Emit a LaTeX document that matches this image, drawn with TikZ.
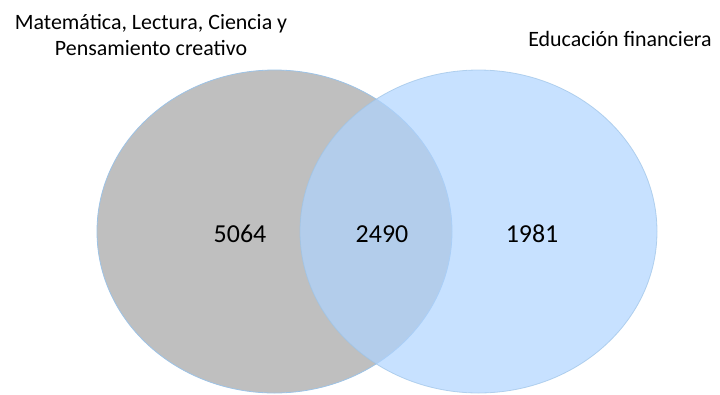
\documentclass[tikz,border=0pt]{standalone}
\usepackage{fontspec}
\setmainfont{Carlito}
\usetikzlibrary{positioning}
\definecolor{setgray}{HTML}{BFBFBF}
\definecolor{setblue}{HTML}{AFD4FF}
\definecolor{rimblue}{HTML}{9DC3E6}

\begin{document}
\begin{tikzpicture}[x=1bp, y=-1bp,
  setA/.style={fill=setgray, draw=rimblue, line width=0.8bp},
  setB/.style={fill=setblue, fill opacity=0.7, draw=rimblue, draw opacity=0.7, line width=0.8bp},
  count/.style={font=\fontsize{26}{30}\selectfont, inner sep=0pt},
  setname/.style={font=\fontsize{22}{25.5}\selectfont, align=center, inner sep=0pt}
]
  \useasboundingbox (0,0) rectangle (720,394);

  \draw[setA] (274.5,231.5) ellipse [x radius=177.5, y radius=161.5];
  \draw[setB] (478.5,231.5) ellipse [x radius=178.5, y radius=161.5];

  \node[count] (onlyA) at (240,234) {5064};
  \node[count] (both) at (382,234) {2490};
  \node[count] (onlyB) at (532,234) {1981};

  \node[setname] (nameA) at (151,35) {Matemática, Lectura, Ciencia y\\Pensamiento creativo};
  \node[setname] (nameB) at (620,39) {Educación financiera};
\end{tikzpicture}
\end{document}
